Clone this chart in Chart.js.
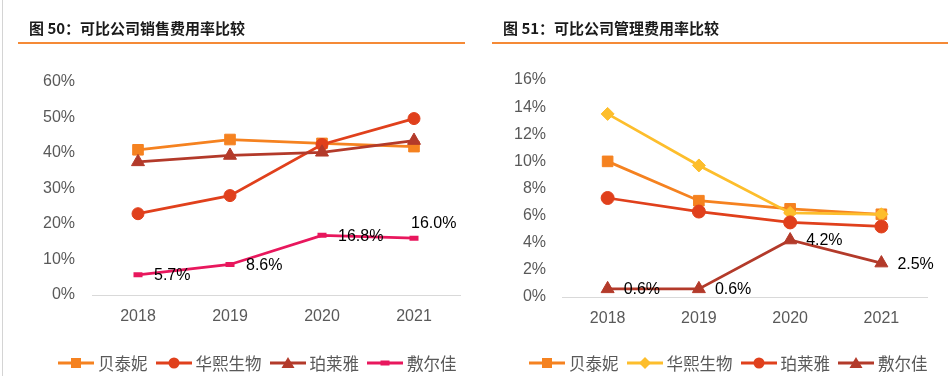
<!DOCTYPE html>
<html><head><meta charset="utf-8">
<script src="https://cdn.jsdelivr.net/npm/chart.js@4.4.1/dist/chart.umd.min.js"></script>
<style>
html,body{margin:0;padding:0;background:#fff}
body{width:948px;height:376px;position:relative;overflow:hidden}
canvas{position:absolute;top:0}
.title{position:absolute;top:17px;font-family:"Noto Sans CJK SC";font-weight:bold;font-size:15px;color:#1a1a1a;white-space:nowrap;line-height:22px;z-index:2}
.rule{position:absolute;top:42px;height:2px;background:#F58A36;z-index:2}
.vline{position:absolute;left:2px;top:0;width:1px;height:376px;background:#d4d4d4;z-index:2}
.legend{position:absolute;top:352px;display:flex;align-items:center;font-family:"Noto Sans CJK SC";font-size:16.5px;color:#595959;white-space:nowrap;z-index:2;line-height:22px}
.legend .item{display:flex;align-items:center;margin-right:8px}
.legend svg{margin-right:4px}
</style>
</head><body>
<div class="vline"></div>
<div class="title" style="left:29px">图 50：可比公司销售费用率比较</div>
<div class="rule" style="left:18px;width:447px"></div>
<div class="title" style="left:503px">图 51：可比公司管理费用率比较</div>
<div class="rule" style="left:492px;width:456px"></div>
<canvas id="c1" width="475" height="376" style="left:0"></canvas>
<canvas id="c2" width="468" height="376" style="left:480px"></canvas>
<div class="legend" id="lg1" style="left:58px"></div>
<div class="legend" id="lg2" style="left:529px"></div>
<script>
// ---- data ----
const years = ['2018', '2019', '2020', '2021'];

// Figure 50: selling expense ratio (%)
const salesNames = ['贝泰妮', '华熙生物', '珀莱雅', '敷尔佳'];
const salesBeitaini = [40.9, 43.8, 42.7, 41.8];
const salesHuaxi = [22.9, 28.0, 42.4, 49.7];
const salesProya = [37.5, 39.3, 40.2, 43.5];
const salesFuerjia = [5.7, 8.6, 16.8, 16.0];
const salesTicks = [0, 10, 20, 30, 40, 50, 60];

// Figure 51: admin expense ratio (%)
const adminNames = ['贝泰妮', '华熙生物', '珀莱雅', '敷尔佳'];
const adminBeitaini = [10.0, 7.1, 6.5, 6.1];
const adminHuaxi = [13.5, 9.7, 6.2, 6.1];
const adminProya = [7.3, 6.3, 5.5, 5.2];
const adminFuerjia = [0.6, 0.6, 4.2, 2.5];
const adminTicks = [0, 2, 4, 6, 8, 10, 12, 14, 16];

// ---- styles ----
const C_ORANGE = '#F58220', C_RED = '#E0401C', C_BROWN = '#B33A2A', C_PINK = '#E8175D', C_YELLOW = '#FDBE2C';
const NUM_FONT = 'Liberation Sans';
const AX_COLOR = '#595959';

function ds(label, data, color, style, radius, order, extraBorder) {
  return {
    label, data, borderColor: color, backgroundColor: color,
    borderWidth: 2.75, pointStyle: style, pointRadius: radius, pointHoverRadius: radius,
    pointBackgroundColor: color, pointBorderColor: color,
    pointBorderWidth: extraBorder || 1, order, tension: 0
  };
}

const labelPlugin = {
  id: 'vlabels',
  afterDatasetsDraw(chart, args, opts) {
    const meta = chart.getDatasetMeta(opts.dataset);
    const data = chart.data.datasets[opts.dataset].data;
    const ctx = chart.ctx;
    ctx.save();
    ctx.font = '16px "' + NUM_FONT + '"';
    ctx.fillStyle = '#000';
    ctx.textBaseline = 'middle';
    ctx.textAlign = 'left';
    meta.data.forEach((pt, i) => {
      const pos = opts.positions[i];
      const txt = data[i].toFixed(1) + '%';
      if (pos === 'above') ctx.fillText(txt, pt.x - 3, pt.y - 15);
      else ctx.fillText(txt, pt.x + 16, pt.y + 1);
    });
    ctx.restore();
  }
};

function makeChart(id, datasets, tickVals, yAxisW, tickPad, pad, labelOpts) {
  return new Chart(document.getElementById(id), {
    type: 'line',
    data: { labels: years, datasets },
    options: {
      responsive: false, animation: false, devicePixelRatio: 1,
      layout: { padding: pad },
      plugins: { legend: { display: false }, tooltip: { enabled: false }, vlabels: labelOpts },
      scales: {
        x: {
          type: 'category', offset: true,
          grid: { display: false, drawTicks: false },
          border: { display: true, color: '#D9D9D9', width: 1 },
          ticks: { color: AX_COLOR, font: { family: NUM_FONT, size: 16 }, padding: 12, maxRotation: 0 },
          afterFit(s) { s.height = 40; }
        },
        y: {
          min: tickVals[0], max: tickVals[tickVals.length - 1],
          grid: { display: false, drawTicks: false },
          border: { display: false },
          afterBuildTicks(s) { s.ticks = tickVals.map(v => ({ value: v })); },
          ticks: { color: AX_COLOR, font: { family: NUM_FONT, size: 16 }, padding: tickPad, callback: v => v + '%' },
          afterFit(s) { s.width = yAxisW; }
        }
      }
    },
    plugins: [labelPlugin]
  });
}

makeChart('c1', [
  ds(salesNames[0], salesBeitaini, C_ORANGE, 'rect', 7.5, 3),
  ds(salesNames[1], salesHuaxi, C_RED, 'circle', 6, 2),
  ds(salesNames[2], salesProya, C_BROWN, 'triangle', 7.5, 1),
  ds(salesNames[3], salesFuerjia, C_PINK, 'line', 4.5, 0, 5)
], salesTicks, 92, 17, { left: 0, top: 82, right: 15, bottom: 41 },
  { dataset: 3, positions: ['right', 'right', 'right', 'above'] });

makeChart('c2', [
  ds(adminNames[0], adminBeitaini, C_ORANGE, 'rect', 7.5, 3),
  ds(adminNames[1], adminHuaxi, C_YELLOW, 'rectRot', 6.5, 2),
  ds(adminNames[2], adminProya, C_RED, 'circle', 6.5, 1),
  ds(adminNames[3], adminFuerjia, C_BROWN, 'triangle', 7.5, 0)
], adminTicks, 82, 16, { left: 0, top: 80, right: 21, bottom: 39 },
  { dataset: 3, positions: ['right', 'right', 'right', 'right'] });

// ---- HTML legends ----
function marker(style, color) {
  switch (style) {
    case 'rect': return `<rect x="13" y="2" width="10" height="10" fill="${color}"/>`;
    case 'circle': return `<circle cx="18" cy="7" r="5.5" fill="${color}"/>`;
    case 'triangle': return `<polygon points="18,1 24.5,12 11.5,12" fill="${color}"/>`;
    case 'rectRot': return `<polygon points="18,1 24,7 18,13 12,7" fill="${color}"/>`;
    case 'line': return `<rect x="13.5" y="4.5" width="9" height="5" fill="${color}"/>`;
  }
  return '';
}
function legend(id, names, colors, styles) {
  const el = document.getElementById(id);
  el.innerHTML = names.map((n, i) =>
    `<span class="item"><svg width="36" height="14" viewBox="0 0 36 14"><line x1="0" y1="7" x2="36" y2="7" stroke="${colors[i]}" stroke-width="3"/>${marker(styles[i], colors[i])}</svg><span>${n}</span></span>`
  ).join('');
}
legend('lg1', salesNames, [C_ORANGE, C_RED, C_BROWN, C_PINK], ['rect', 'circle', 'triangle', 'line']);
legend('lg2', adminNames, [C_ORANGE, C_YELLOW, C_RED, C_BROWN], ['rect', 'rectRot', 'circle', 'triangle']);
</script>
</body></html>
